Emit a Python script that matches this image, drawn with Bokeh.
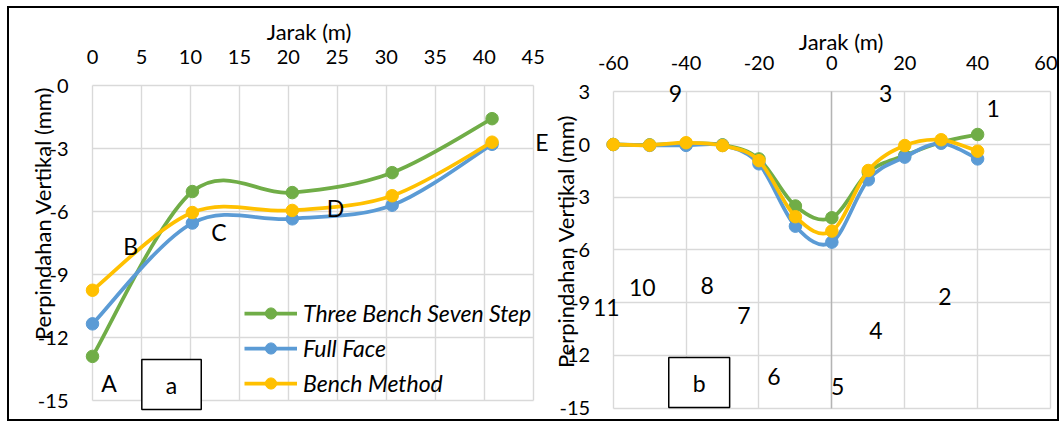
import math
from bokeh.plotting import figure
from bokeh.models import Range1d, FixedTicker, Label, Legend, LegendItem, LinearAxis, Grid
from bokeh.layouts import row
from bokeh.embed import file_html
from bokeh.resources import INLINE

# ---------------- data: panel a ----------------
a_x = [0, 10.2, 20.4, 30.6, 40.8]
a_three_bench = [-12.9, -5.05, -5.1, -4.15, -1.58]
a_full_face = [-11.35, -6.55, -6.35, -5.7, -2.8]
a_bench = [-9.75, -6.05, -5.95, -5.25, -2.7]
a_x_ticks = [0, 5, 10, 15, 20, 25, 30, 35, 40, 45]
a_y_ticks = [0, -3, -6, -9, -12, -15]
a_letters = ["A", "B", "C", "D", "E"]
a_letter_x = [1.7, 3.9, 12.9, 24.8, 45.9]
a_letter_y = [-14.16, -7.62, -6.96, -5.81, -2.7]

# ---------------- data: panel b ----------------
b_x = [-60, -50, -40, -30, -20, -10, 0, 10, 20, 30, 40]
b_three_bench = [0, -0.02, 0.05, -0.02, -0.82, -3.5, -4.17, -1.58, -0.63, 0.13, 0.57]
b_full_face = [0, -0.05, -0.05, -0.05, -1.1, -4.65, -5.56, -2.01, -0.72, 0.07, -0.82]
b_bench = [0, -0.04, 0.1, -0.06, -0.92, -4.11, -4.93, -1.48, -0.06, 0.27, -0.38]
b_x_ticks = [-60, -40, -20, 0, 20, 40, 60]
b_y_ticks = [3, 0, -3, -6, -9, -12, -15]
b_numbers = ["9", "3", "1", "10", "8", "2", "11", "7", "4", "6", "5"]
b_num_x = [-42.9, 14.8, 44.3, -52.0, -34.2, 31.0, -61.9, -24.1, 12.1, -15.9, 1.6]
b_num_y = [2.91, 2.91, 2.07, -8.13, -8.03, -8.67, -9.29, -9.72, -10.56, -13.2, -13.8]

series_names = ["Three Bench Seven Step", "Full Face", "Bench Method"]
series_colors = ["#70AD47", "#5B9BD5", "#FFC000"]
x_title = "Jarak (m)"
y_title = "Perpindahan Vertikal (mm)"

FONT = "Lato"
GRID = "#d9d9d9"
TICK_FS = "20px"
TITLE_FS = "22px"
NOTE_FS = "23px"


def smooth(xs, ys, t=1.0 / 6.0):
    n = len(xs)
    out = dict(x0=[], y0=[], x1=[], y1=[], cx0=[], cy0=[], cx1=[], cy1=[])
    for i in range(n - 1):
        xp, yp = (xs[i - 1], ys[i - 1]) if i > 0 else (xs[i], ys[i])
        xn, yn = (xs[i + 2], ys[i + 2]) if i + 2 < n else (xs[i + 1], ys[i + 1])
        out["x0"].append(xs[i]); out["y0"].append(ys[i])
        out["x1"].append(xs[i + 1]); out["y1"].append(ys[i + 1])
        out["cx0"].append(xs[i] + (xs[i + 1] - xp) * t)
        out["cy0"].append(ys[i] + (ys[i + 1] - yp) * t)
        out["cx1"].append(xs[i + 1] - (xn - xs[i]) * t)
        out["cy1"].append(ys[i + 1] - (yn - ys[i]) * t)
    return out


def make_axis(loc, ticks, bounds, standoff):
    ax = LinearAxis(fixed_location=loc, ticker=FixedTicker(ticks=ticks), bounds=bounds,
                    major_label_overrides={t: str(t) for t in ticks})
    ax.major_tick_in = 0
    ax.major_tick_out = 0
    ax.minor_tick_in = 0
    ax.minor_tick_out = 0
    ax.axis_line_color = None
    ax.major_label_text_font = FONT
    ax.major_label_text_font_size = TICK_FS
    ax.major_label_text_color = "#000000"
    ax.major_label_standoff = standoff
    return ax


def add_grid(p, dim, ticks, cross, color=GRID):
    g = Grid(dimension=dim, ticker=FixedTicker(ticks=ticks), grid_line_color=color,
             grid_line_width=1.4)
    g.cross_bounds = cross
    p.add_layout(g)


def draw_series(p, xs, ys, color):
    seg = smooth(xs, ys)
    r1 = p.bezier(x0=seg["x0"], y0=seg["y0"], x1=seg["x1"], y1=seg["y1"],
                  cx0=seg["cx0"], cy0=seg["cy0"], cx1=seg["cx1"], cy1=seg["cy1"],
                  line_color=color, line_width=3.75)
    r2 = p.scatter(xs, ys, size=12.5, fill_color=color, line_color=color, line_width=1)
    return [r1, r2]


def text(p, x, y, txt, size, angle=0.0, style="normal"):
    p.add_layout(Label(x=x, y=y, text=txt, angle=angle, text_align="center",
                       text_baseline="middle", text_font=FONT, text_font_size=size,
                       text_font_style=style, text_color="black"))


def box_label(p, x, y, txt):
    p.add_layout(Label(x=x, y=y, text=txt, text_align="center", text_baseline="middle",
                       text_font=FONT, text_font_size=NOTE_FS, text_color="black",
                       border_line_color="black", border_line_width=1.5,
                       background_fill_color="white",
                       padding=dict(left=24, right=24, top=11, bottom=11)))


def base_fig(w, h, xr, yr):
    p = figure(width=w, height=h, x_range=Range1d(*xr), y_range=Range1d(*yr),
               x_axis_type=None, y_axis_type=None, output_backend="svg",
               toolbar_location=None, min_border=0)
    p.outline_line_color = None
    p.background_fill_color = "white"
    p.border_fill_color = "white"
    return p


H = 411
BOTTOM = 8 + H
# ---------------- panel a ----------------
W1 = 541
kx = (532.7 - 92) / 45.0
ky = (400 - 85) / 15.0
pa = base_fig(W1, H, (-(92 - 9) / kx, 45 + (550 - 532.7) / kx),
              (-15 - (BOTTOM - 400) / ky, (85 - 8) / ky))
add_grid(pa, 0, a_x_ticks, (-15, 0))
add_grid(pa, 1, a_y_ticks, (0, 45))
pa.add_layout(make_axis(0, a_x_ticks, (0, 45), 22), "above")
pa.add_layout(make_axis(0, a_y_ticks, (-15, 0), 24), "left")

items = []
for name, ys, c in zip(series_names, [a_three_bench, a_full_face, a_bench], series_colors):
    rs = draw_series(pa, a_x, ys, c)
    items.append(LegendItem(label=name, renderers=rs))

leg = Legend(items=items, location=(235, 22), padding=0, margin=0,
             background_fill_alpha=0, border_line_alpha=0,
             label_text_font=FONT, label_text_font_size="23px", label_text_font_style="italic",
             label_text_color="black", glyph_width=53, glyph_height=28, label_height=28,
             label_standoff=6, spacing=7)
pa.add_layout(leg)

text(pa, 22.12, 2.571, x_title, TITLE_FS)
text(pa, -5.14, -6.095, y_title, TITLE_FS, angle=math.pi / 2)
for t, x, y in zip(a_letters, a_letter_x, a_letter_y):
    text(pa, x, y, t, NOTE_FS)
box_label(pa, 8.07, -14.24, "a")

# ---------------- panel b ----------------
W2 = 507
kx = (1050 - 612.7) / 120.0
ky = (407.5 - 91.3) / 18.0
pb = base_fig(W2, H, (-60 - (612.7 - 550) / kx, 60 + (1057 - 1050) / kx),
              (-15 - (BOTTOM - 407.5) / ky, 3 + (91.3 - 8) / ky))
add_grid(pb, 0, b_x_ticks, (-15, 3))
add_grid(pb, 1, b_y_ticks, (-60, 60))
add_grid(pb, 0, [0], (-15, 3), color="#b4b4b4")
pb.add_layout(make_axis(3, b_x_ticks, (-60, 60), 22), "above")
pb.add_layout(make_axis(-60, b_y_ticks, (-15, 3), 23), "left")

for ys, c in zip([b_three_bench, b_full_face, b_bench], series_colors):
    draw_series(pb, b_x, ys, c)

text(pb, 2.54, 5.863, x_title, TITLE_FS)
text(pb, -73.09, -5.52, y_title, TITLE_FS, angle=math.pi / 2)
for t, x, y in zip(b_numbers, b_num_x, b_num_y):
    text(pb, x, y, t, NOTE_FS)
box_label(pb, -36.4, -13.55, "b")

layout = row(pa, pb, styles={"border": "2px solid black", "margin-left": "7px", "margin-top": "6px"})

open("out.html", "w").write(file_html(layout, INLINE))
